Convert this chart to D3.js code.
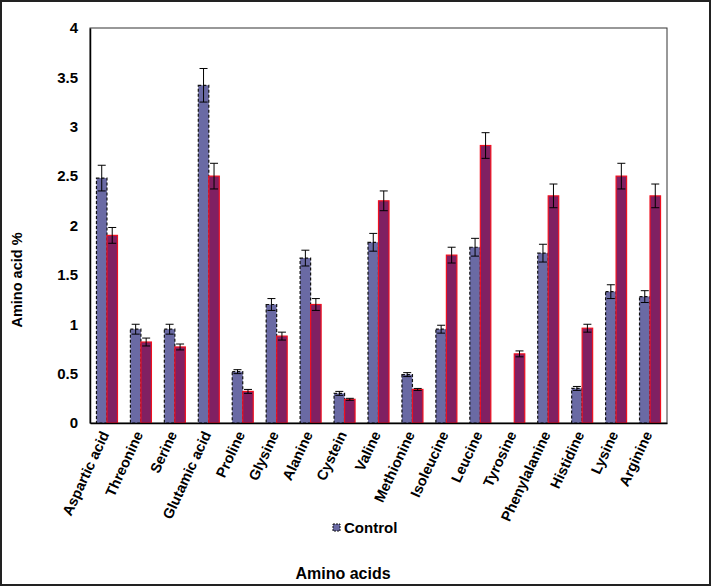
<!DOCTYPE html>
<html><head><meta charset="utf-8">
<script src="https://cdn.jsdelivr.net/npm/d3@7"></script>
<style>body{margin:0;background:#fff}svg{display:block}text{font-family:"Liberation Sans",Arial,sans-serif;font-weight:bold;fill:#000}</style>
</head><body><svg id="c" width="714" height="587"></svg>
<script>
const categories = ["Aspartic acid","Threonine","Serine","Glutamic acid","Proline","Glysine","Alanine","Cystein","Valine","Methionine","Isoleucine","Leucine","Tyrosine","Phenylalanine","Histidine","Lysine","Arginine"];
const controlValues = [2.48,0.95,0.95,3.42,0.52,1.20,1.67,0.30,1.83,0.49,0.95,1.78,0,1.72,0.35,1.33,1.28];
const controlErrors = [0.13,0.05,0.05,0.17,0.02,0.06,0.08,0.02,0.09,0.02,0.04,0.09,0,0.09,0.02,0.07,0.06];
const treatedValues = [1.90,0.82,0.77,2.50,0.32,0.88,1.20,0.24,2.25,0.34,1.70,2.81,0.70,2.30,0.96,2.50,2.30];
const treatedErrors = [0.08,0.04,0.03,0.13,0.02,0.04,0.06,0.01,0.10,0.01,0.08,0.13,0.03,0.12,0.04,0.13,0.12];
const yTicks = [0,0.5,1,1.5,2,2.5,3,3.5,4];

const svg = d3.select("#c");
const L=90,R=667,T=28,B=423;
svg.append("rect").attr("x",1).attr("y",1).attr("width",709).attr("height",584).attr("fill","none").attr("stroke","#222").attr("stroke-width",2);
svg.append("rect").attr("x",L).attr("y",T).attr("width",R-L).attr("height",B-T).attr("fill","none").attr("stroke","#333").attr("stroke-width",1);

const x = d3.scaleBand().domain(categories).range([L,R]).padding(0);
const y = d3.scaleLinear().domain([0,4]).range([B,T]);
const bw = 10.5;

const g = svg.append("g");
categories.forEach((c,i)=>{
  const cx = x(c)+x.bandwidth()/2;
  if(controlValues[i]>0){
    g.append("rect").attr("x",cx-bw).attr("y",y(controlValues[i])).attr("width",bw).attr("height",B-y(controlValues[i]))
     .attr("fill","#6A6AA4").attr("stroke","#111").attr("stroke-width",1.2).attr("stroke-dasharray","3,2");
  }
  g.append("rect").attr("x",cx).attr("y",y(treatedValues[i])).attr("width",bw).attr("height",B-y(treatedValues[i]))
   .attr("fill","#802062").attr("stroke","#F01020").attr("stroke-width",1.2);
  const eb=(xc,v,e)=>{
    if(v<=0) return;
    g.append("line").attr("x1",xc).attr("x2",xc).attr("y1",y(v+e)).attr("y2",y(v-e)).attr("stroke","#000").attr("stroke-width",1);
    [v+e,v-e].forEach(t=>g.append("line").attr("x1",xc-4).attr("x2",xc+4).attr("y1",y(t)).attr("y2",y(t)).attr("stroke","#000").attr("stroke-width",1));
  };
  eb(cx-bw/2,controlValues[i],controlErrors[i]);
  eb(cx+bw/2,treatedValues[i],treatedErrors[i]);
});

const ya = svg.append("g").attr("transform",`translate(${L},0)`).call(d3.axisLeft(y).tickValues(yTicks).tickSize(0).tickPadding(12).tickFormat(d=>String(d)));
ya.select(".domain").attr("stroke","#000").attr("stroke-width",1.5);
ya.selectAll("text").attr("font-size",15).attr("font-family","Liberation Sans, Arial").attr("font-weight","bold");

const xa = svg.append("g").attr("transform",`translate(0,${B})`).call(d3.axisBottom(x).tickSize(0).tickFormat(""));
xa.select(".domain").attr("stroke","#000").attr("stroke-width",1.5);
categories.forEach(c=>{
  const cx = x(c)+x.bandwidth()/2-2;
  svg.append("text").attr("transform",`translate(${cx},${B+9}) rotate(-65)`).attr("text-anchor","end").attr("dy","0.35em")
    .attr("font-size",14.5).text(c);
});

svg.append("rect").attr("x",333).attr("y",524).attr("width",7).attr("height",7).attr("fill","#6A6AA4").attr("stroke","#111").attr("stroke-width",1).attr("stroke-dasharray","2,1");
svg.append("text").attr("x",344).attr("y",533).attr("font-size",15).text("Control");

svg.append("text").attr("x",343).attr("y",579).attr("text-anchor","middle").attr("font-size",16).text("Amino acids");
svg.append("text").attr("transform","translate(22,280) rotate(-90)").attr("text-anchor","middle").attr("font-size",14.5).text("Amino acid %");
</script></body></html>
